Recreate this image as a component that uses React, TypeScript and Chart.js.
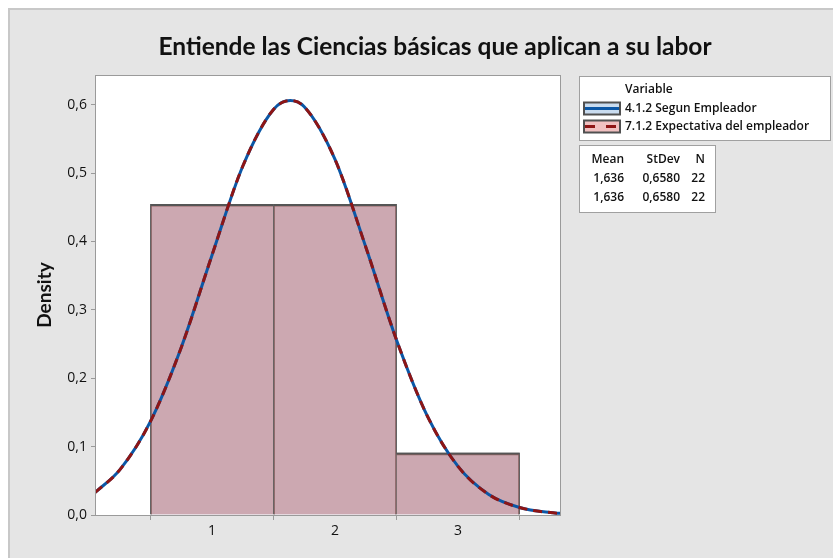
import React, { useEffect, useRef } from "react";
import { Chart, registerables } from "chart.js";

Chart.register(...registerables);

const TITLE = "Entiende las Ciencias básicas que aplican a su labor";
const Y_LABEL = "Density";
const LEGEND_HEADING = "Variable";
const SERIES_NAMES = ["4.1.2 Segun Empleador", "7.1.2 Expectativa del empleador"];

const BIN_CENTERS = [1, 2, 3];
const DENSITY_BLUE = [0.4545, 0.4545, 0.0909];
const DENSITY_RED = [0.4545, 0.4545, 0.0909];

const CURVE_X = [0.05, 0.25, 0.5, 0.75, 1.0, 1.25, 1.5, 1.636, 1.75, 2.0, 2.25, 2.5, 2.75, 3.0, 3.25, 3.5, 3.75, 3.83];
const CURVE_BLUE = [0.033, 0.066, 0.137, 0.245, 0.38, 0.51, 0.593, 0.606, 0.597, 0.52, 0.392, 0.256, 0.145, 0.071, 0.03, 0.011, 0.0035, 0.0024];
const CURVE_RED = [0.033, 0.066, 0.137, 0.245, 0.38, 0.51, 0.593, 0.606, 0.597, 0.52, 0.392, 0.256, 0.145, 0.071, 0.03, 0.011, 0.0035, 0.0024];

const Y_TICKS = [0, 0.1, 0.2, 0.3, 0.4, 0.5, 0.6];
const X_TICKS = [1, 2, 3];

const STAT_HEADERS = ["Mean", "StDev", "N"];
const STAT_MEAN = ["1,636", "1,636"];
const STAT_STDEV = ["0,6580", "0,6580"];
const STAT_N = ["22", "22"];

const BLUE = "#0b57a6";
const RED = "#8e1515";
const FONT = "Lato, 'Open Sans', sans-serif";
const FONT2 = "'Open Sans', sans-serif";

const decorPlugin = {
  id: "decor",
  beforeDraw(chart: any) {
    const ctx = chart.ctx;
    const a = chart.chartArea;
    ctx.save();
    ctx.fillStyle = "#ffffff";
    ctx.fillRect(0, 0, chart.width, chart.height);
    ctx.fillStyle = "#e5e5e5";
    ctx.fillRect(8, 8, chart.width - 8, chart.height - 8);
    ctx.fillStyle = "#c8c8c8";
    ctx.fillRect(8, 8, chart.width - 8, 2);
    ctx.fillRect(8, 8, 2, chart.height - 8);
    ctx.fillStyle = "#ffffff";
    ctx.fillRect(a.left, a.top, a.right - a.left, a.bottom - a.top);
    ctx.restore();
  },
  afterDraw(chart: any) {
    const ctx = chart.ctx;
    const a = chart.chartArea;
    ctx.save();
    // plot frame
    ctx.strokeStyle = "#9a9a9a";
    ctx.lineWidth = 1;
    ctx.strokeRect(a.left - 0.5, a.top - 0.5, a.right - a.left + 1, a.bottom - a.top + 1);

    // title
    ctx.fillStyle = "#111111";
    ctx.font = `bold 24.5px ${FONT}`;
    ctx.textAlign = "center";
    ctx.textBaseline = "middle";
    ctx.fillText(TITLE, 435, 47);

    // y label
    ctx.save();
    ctx.translate(45, 295);
    ctx.rotate(-Math.PI / 2);
    ctx.font = `bold 19px ${FONT}`;
    ctx.fillText(Y_LABEL, 0, 0);
    ctx.restore();

    // legend box
    ctx.fillStyle = "#ffffff";
    ctx.fillRect(579.5, 76.5, 251, 64);
    ctx.strokeStyle = "#a0a0a0";
    ctx.strokeRect(579.5, 76.5, 251, 64);
    ctx.fillStyle = "#111111";
    ctx.textAlign = "left";
    ctx.font = `600 12px ${FONT2}`;
    ctx.fillText(LEGEND_HEADING, 625, 90);
    const swatches = [
      { y: 102.5, fill: "#c9dcf0", line: BLUE, dash: [] as number[] },
      { y: 120.5, fill: "#f0c0c0", line: RED, dash: [10, 11] },
    ];
    swatches.forEach((s, i) => {
      ctx.fillStyle = s.fill;
      ctx.fillRect(584, s.y, 36, 12);
      ctx.strokeStyle = "#505050";
      ctx.lineWidth = 2;
      ctx.strokeRect(584, s.y, 36, 12);
      ctx.strokeStyle = s.line;
      ctx.lineWidth = 3;
      ctx.setLineDash(s.dash);
      ctx.beginPath();
      ctx.moveTo(585, s.y + 6);
      ctx.lineTo(619, s.y + 6);
      ctx.stroke();
      ctx.setLineDash([]);
      ctx.fillStyle = "#111111";
      ctx.fillText(SERIES_NAMES[i], 625, s.y + 6.5);
    });

    // stats box
    ctx.lineWidth = 1;
    ctx.fillStyle = "#ffffff";
    ctx.fillRect(579.5, 145.5, 136, 67);
    ctx.strokeStyle = "#a0a0a0";
    ctx.strokeRect(579.5, 145.5, 136, 67);
    ctx.fillStyle = "#111111";
    ctx.textAlign = "right";
    const cols = [624, 680, 705];
    STAT_HEADERS.forEach((h, j) => ctx.fillText(h, cols[j], 160));
    for (let r = 0; r < STAT_MEAN.length; r++) {
      const y = 179 + r * 19;
      ctx.fillText(STAT_MEAN[r], cols[0], y);
      ctx.fillText(STAT_STDEV[r], cols[1], y);
      ctx.fillText(STAT_N[r], cols[2], y);
    }
    ctx.restore();
  },
};

export default function App() {
  const ref = useRef<HTMLCanvasElement | null>(null);

  useEffect(() => {
    if (!ref.current) return;
    const barBorder = (c: any) => ({
      top: 2,
      left: c.dataIndex === 2 ? 0 : 1,
      right: c.dataIndex === 0 ? 0 : 1,
      bottom: 0,
    });
    const chart = new Chart(ref.current, {
      type: "bar",
      data: {
        datasets: [
          {
            type: "line",
            label: SERIES_NAMES[1] + " fit",
            data: CURVE_X.map((x, i) => ({ x, y: CURVE_RED[i] })),
            borderColor: RED,
            borderWidth: 3,
            borderDash: [9, 6],
            pointRadius: 0,
            cubicInterpolationMode: "monotone",
            order: 1,
          } as any,
          {
            type: "line",
            label: SERIES_NAMES[0] + " fit",
            data: CURVE_X.map((x, i) => ({ x, y: CURVE_BLUE[i] })),
            borderColor: BLUE,
            borderWidth: 3,
            pointRadius: 0,
            cubicInterpolationMode: "monotone",
            order: 2,
          } as any,
          {
            type: "bar",
            label: SERIES_NAMES[1],
            data: BIN_CENTERS.map((x, i) => ({ x, y: DENSITY_RED[i] })),
            backgroundColor: "rgba(208,116,114,0.5)",
            borderColor: "#555555",
            borderWidth: barBorder,
            borderSkipped: "start",
            barPercentage: 1,
            categoryPercentage: 1,
            grouped: false,
            order: 3,
          } as any,
          {
            type: "bar",
            label: SERIES_NAMES[0],
            data: BIN_CENTERS.map((x, i) => ({ x, y: DENSITY_BLUE[i] })),
            backgroundColor: "rgb(200,220,240)",
            borderColor: "#555555",
            borderWidth: barBorder,
            borderSkipped: "start",
            barPercentage: 1,
            categoryPercentage: 1,
            grouped: false,
            order: 4,
          } as any,
        ],
      },
      options: {
        animation: false,
        responsive: false,
        layout: { padding: { left: 0, top: 76, right: 273, bottom: 0 }, autoPadding: false } as any,
        plugins: {
          legend: { display: false },
          tooltip: { enabled: false },
          title: { display: false },
        },
        scales: {
          x: {
            type: "linear",
            min: 0.057,
            max: 3.829,
            offset: false,
            afterFit: (s: any) => {
              s.height = 43;
            },
            afterBuildTicks: (s: any) => {
              s.ticks = X_TICKS.map((v) => ({ value: v }));
            },
            grid: { drawOnChartArea: false, drawTicks: true, tickLength: 5, color: "#9a9a9a", tickColor: "#9a9a9a" },
            border: { display: false },
            ticks: {
              font: { family: FONT2, size: 14 },
              color: "#111111",
              padding: 3,
              maxRotation: 0,
              autoSkip: false,
              callback: (v: any) => String(v),
            },
          },
          y: {
            type: "linear",
            min: 0,
            max: 0.642,
            afterFit: (s: any) => {
              s.width = 96;
            },
            afterBuildTicks: (s: any) => {
              s.ticks = Y_TICKS.map((v) => ({ value: v }));
            },
            grid: { drawOnChartArea: false, drawTicks: true, tickLength: 5, color: "#9a9a9a", tickColor: "#9a9a9a" },
            border: { display: false },
            ticks: {
              font: { family: FONT2, size: 14 },
              color: "#111111",
              padding: 4,
              autoSkip: false,
              callback: (v: any) => Number(v).toFixed(1).replace(".", ","),
            },
          },
        },
      } as any,
      plugins: [decorPlugin],
    });
    return () => chart.destroy();
  }, []);

  return (
    <div style={{ position: "fixed", left: 0, top: 0, width: 833, height: 558 }}>
      <canvas ref={ref} width={833} height={558} style={{ display: "block" }} />
    </div>
  );
}
